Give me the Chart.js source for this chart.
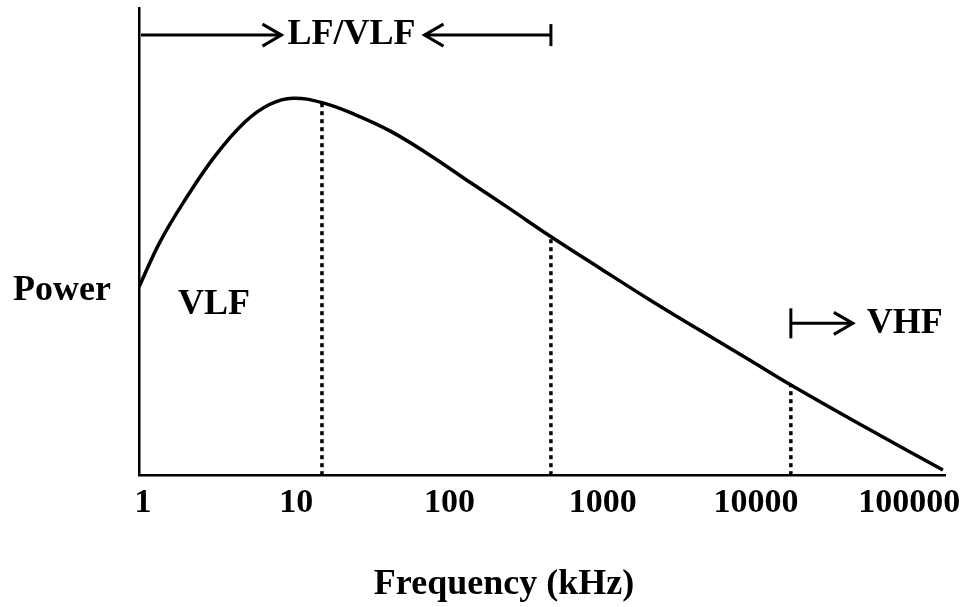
<!DOCTYPE html>
<html>
<head>
<meta charset="utf-8">
<script src="https://cdn.jsdelivr.net/npm/chart.js@4.4.1/dist/chart.umd.min.js"></script>
<style>
  html, body { margin: 0; padding: 0; background: #ffffff; }
  #wrap { width: 972px; height: 607px; }
</style>
</head>
<body>
<div id="wrap"><canvas id="c" width="972" height="607"></canvas></div>
<script>
// ---- data ----
const freqKHz = [0.94, 1.287, 1.875, 2.943, 4.618, 6.724, 9.5, 14.92, 24.13, 40.83, 74.5, 135.9, 248, 452, 959, 2033, 4311, 9139, 16925, 47750, 166200];
const power   = [40.3, 49.9, 58.9, 68.3, 75.6, 79.4, 80.7, 79.7, 77.2, 73.7, 68.5, 62.7, 57.0, 51.2, 44.3, 37.5, 31.0, 24.6, 19.3, 10.9, 1.1];
const dividerFreq  = [14.7, 459, 16900];
const dividerPower = [79.7, 51.0, 19.3];
const tickValues = [1, 10, 100, 1000, 10000, 100000];
const tickLabels = ['1', '10', '100', '1000', '10000', '100000'];
const xRange = [0.94, 171400];
const yRange = [0, 100];
const bandLabels = ['LF/VLF', 'VLF', 'VHF'];
const axisTitles = ['Power', 'Frequency (kHz)'];
// annotation anchors (data units)
const lfvlfCenterFreq = 22.9, lfvlfLevel = 94.2;
const vlfLeftFreq = 1.69, vlfLevel = 36.6;
const vhfLevel = 32.5;
const powerLevel = 39.4;

const FONT = '"Liberation Serif", "Times New Roman", serif';

const datasets = [{
  data: freqKHz.map((f, i) => ({ x: f, y: power[i] })),
  borderColor: '#000',
  borderWidth: 3.5,
  pointRadius: 0,
  tension: 0.4,
  fill: false
}];
dividerFreq.forEach((f, i) => {
  datasets.push({
    data: [{ x: f, y: 0 }, { x: f, y: dividerPower[i] }],
    borderColor: '#000',
    borderWidth: 3.5,
    borderDash: [4, 4],
    pointRadius: 0,
    tension: 0,
    fill: false
  });
});

function chevron(ctx, tipX, tipY, dir) {
  ctx.beginPath();
  ctx.moveTo(tipX - dir * 19, tipY - 11);
  ctx.lineTo(tipX, tipY);
  ctx.lineTo(tipX - dir * 19, tipY + 11);
  ctx.stroke();
}

const annotations = {
  id: 'annotations',
  afterDraw(chart) {
    const { ctx, chartArea, scales: { x, y } } = chart;
    ctx.save();
    ctx.strokeStyle = '#000';
    ctx.fillStyle = '#000';
    ctx.lineWidth = 3;
    ctx.lineJoin = 'miter';
    ctx.font = 'bold 36px ' + FONT;
    ctx.textBaseline = 'middle';

    // LF/VLF band arrow
    const ty = y.getPixelForValue(lfvlfLevel);
    const tcx = x.getPixelForValue(lfvlfCenterFreq);
    const tw = ctx.measureText(bandLabels[0]).width;
    ctx.textAlign = 'center';
    ctx.fillText(bandLabels[0], tcx, ty);
    const rightTip = tcx - tw / 2 - 6;
    ctx.beginPath();
    ctx.moveTo(chartArea.left + 2, ty);
    ctx.lineTo(rightTip, ty);
    ctx.stroke();
    chevron(ctx, rightTip, ty, 1);
    const leftTip = tcx + tw / 2 + 9;
    const barX = x.getPixelForValue(dividerFreq[1]);
    ctx.beginPath();
    ctx.moveTo(leftTip, ty);
    ctx.lineTo(barX, ty);
    ctx.stroke();
    chevron(ctx, leftTip, ty, -1);
    ctx.beginPath();
    ctx.moveTo(barX, ty - 11);
    ctx.lineTo(barX, ty + 11);
    ctx.stroke();

    // VLF label
    ctx.textAlign = 'left';
    ctx.fillText(bandLabels[1], x.getPixelForValue(vlfLeftFreq), y.getPixelForValue(vlfLevel));

    // VHF arrow
    const vy = y.getPixelForValue(vhfLevel);
    const vx = x.getPixelForValue(dividerFreq[2]);
    ctx.beginPath();
    ctx.moveTo(vx, vy - 15);
    ctx.lineTo(vx, vy + 15);
    ctx.stroke();
    ctx.beginPath();
    ctx.moveTo(vx, vy);
    ctx.lineTo(vx + 62, vy);
    ctx.stroke();
    chevron(ctx, vx + 62, vy, 1);
    ctx.fillText(bandLabels[2], vx + 76, vy);

    // axis titles
    ctx.fillText(axisTitles[0], chartArea.left - 126, y.getPixelForValue(powerLevel));
    ctx.textAlign = 'center';
    ctx.fillText(axisTitles[1], chartArea.left + 365, chartArea.bottom + 110);
    ctx.restore();
  }
};

new Chart(document.getElementById('c'), {
  type: 'line',
  data: { datasets },
  plugins: [annotations],
  options: {
    responsive: false,
    animation: false,
    layout: { padding: { left: 139, top: 8, right: 27, bottom: 75 } },
    plugins: { legend: { display: false }, tooltip: { enabled: false } },
    scales: {
      x: {
        type: 'logarithmic',
        min: xRange[0],
        max: xRange[1],
        afterBuildTicks(scale) { scale.ticks = tickValues.map(v => ({ value: v })); },
        grid: { display: false, drawTicks: false },
        border: { display: true, color: '#000', width: 2.5 },
        ticks: {
          color: '#000',
          padding: 8,
          maxRotation: 0,
          autoSkip: false,
          font: { family: FONT, size: 34, weight: 'bold' },
          callback: (v) => { const i = tickValues.indexOf(v); return i >= 0 ? tickLabels[i] : ''; }
        }
      },
      y: {
        type: 'linear',
        min: yRange[0],
        max: yRange[1],
        grid: { display: false, drawTicks: false },
        border: { display: true, color: '#000', width: 2.5 },
        ticks: { display: false }
      }
    }
  }
});
</script>
</body>
</html>
